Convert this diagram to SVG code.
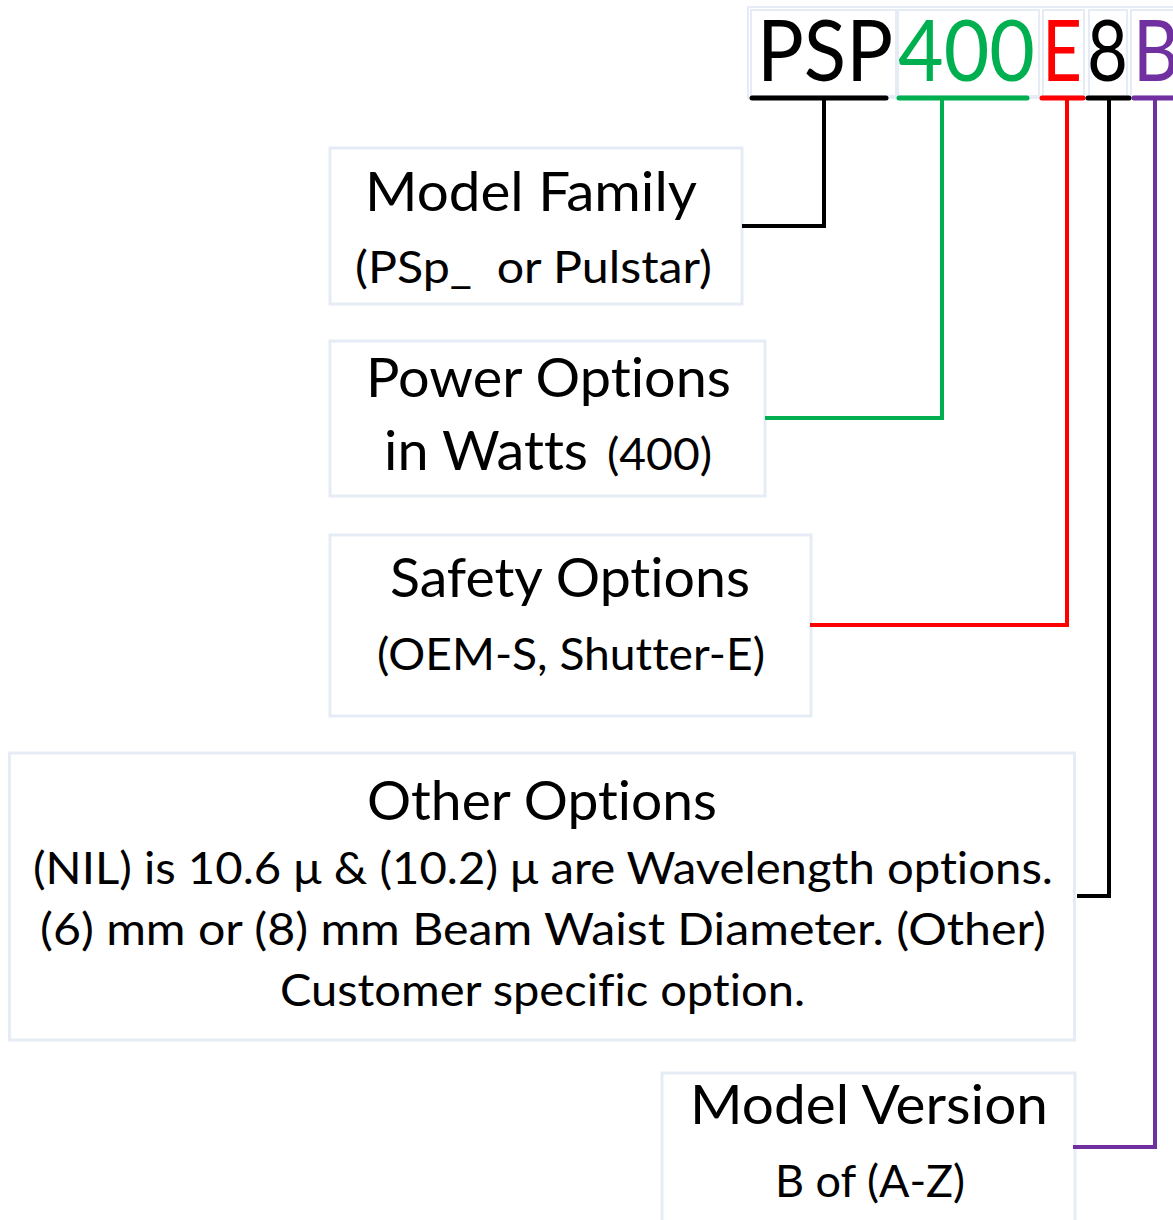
<svg xmlns="http://www.w3.org/2000/svg" width="1173" height="1220" viewBox="0 0 1173 1220">
<style>
.box{fill:#fff;stroke:#E6ECF6;stroke-width:3}
.cell{fill:none;stroke:#E6ECF6;stroke-width:2}
text{font-family:Lato,"Open Sans","Liberation Sans",sans-serif;fill:#000;font-variant-ligatures:none;font-feature-settings:"liga" 0,"clig" 0,"calt" 0,"dlig" 0,"hlig" 0}
.big{font-size:54px}
.sm{font-size:45px}
.top{font-size:85px}
.c{fill:none;stroke-width:4;stroke-linecap:butt;stroke-linejoin:miter}
.u{fill:none;stroke-width:5;stroke-linecap:round}
</style>
<rect width="1173" height="1220" fill="#fff"/>
<g id="code">
<rect class="cell" x="748" y="7" width="432" height="91"/>
<rect class="cell" x="751" y="10" width="145" height="86"/>
<rect class="cell" x="898" y="10" width="141" height="86"/>
<rect class="cell" x="1043" y="10" width="41" height="86"/>
<rect class="cell" x="1089" y="10" width="38" height="86"/>
<rect class="cell" x="1131" y="10" width="50" height="86"/>
<text class="top" x="757" y="81" textLength="136" lengthAdjust="spacingAndGlyphs">PSP</text>
<text class="top" x="898" y="81" textLength="137" lengthAdjust="spacingAndGlyphs" style="fill:#00B050">400</text>
<text class="top" x="1042" y="81" textLength="40" lengthAdjust="spacingAndGlyphs" style="fill:#FF0000">E</text>
<text class="top" x="1087" y="81" textLength="41" lengthAdjust="spacingAndGlyphs">8</text>
<text class="top" x="1133" y="81" textLength="46" lengthAdjust="spacingAndGlyphs" style="fill:#7030A0">B</text>
</g>
<g id="model-family">
<rect class="box" x="330" y="148" width="412" height="156"/>
<text class="big" x="365" y="211" textLength="332" lengthAdjust="spacingAndGlyphs">Model Family</text>
<text class="sm" x="355" y="283" textLength="357" lengthAdjust="spacingAndGlyphs" xml:space="preserve">(PSp_  or Pulstar)</text>
</g>
<g id="power-options">
<rect class="box" x="330" y="341" width="435" height="155"/>
<text class="big" x="366" y="397" textLength="365" lengthAdjust="spacingAndGlyphs">Power Options</text>
<text class="big" x="384" y="470" textLength="204" lengthAdjust="spacingAndGlyphs">in Watts</text>
<text class="sm" x="607" y="470" textLength="105" lengthAdjust="spacingAndGlyphs">(400)</text>
</g>
<g id="safety-options">
<rect class="box" x="330" y="535" width="481" height="181"/>
<text class="big" x="390" y="597" textLength="360" lengthAdjust="spacingAndGlyphs">Safety Options</text>
<text class="sm" x="377" y="670" textLength="388" lengthAdjust="spacingAndGlyphs">(OEM-S, Shutter-E)</text>
</g>
<g id="other-options">
<rect class="box" x="9.5" y="753" width="1065" height="287"/>
<text class="big" x="367" y="820" textLength="350" lengthAdjust="spacingAndGlyphs">Other Options</text>
<text class="sm" x="33" y="884" textLength="1020" lengthAdjust="spacingAndGlyphs">(NIL) is 10.6 μ &amp; (10.2) μ are Wavelength options.</text>
<text class="sm" x="40" y="945" textLength="1006" lengthAdjust="spacingAndGlyphs">(6) mm or (8) mm Beam Waist Diameter. (Other)</text>
<text class="sm" x="280" y="1006" textLength="525" lengthAdjust="spacingAndGlyphs">Customer specific option.</text>
</g>
<g id="model-version">
<rect class="box" x="662" y="1073" width="413" height="160"/>
<text class="big" x="690" y="1124" textLength="358" lengthAdjust="spacingAndGlyphs">Model Version</text>
<text class="sm" x="775" y="1197" textLength="190" lengthAdjust="spacingAndGlyphs">B of (A-Z)</text>
</g>
<g id="connectors">
<line class="u" x1="752" y1="98" x2="886" y2="98" stroke="#000"/>
<line class="u" x1="899" y1="98" x2="1027" y2="98" stroke="#00B050"/>
<line class="u" x1="1042" y1="98" x2="1083" y2="98" stroke="#FF0000"/>
<line class="u" x1="1088" y1="98" x2="1129" y2="98" stroke="#000"/>
<line class="u" x1="1134" y1="98" x2="1175" y2="98" stroke="#7030A0"/>
<polyline class="c" points="824,98 824,226 742,226" stroke="#000"/>
<polyline class="c" points="942,98 942,418 765,418" stroke="#00B050"/>
<polyline class="c" points="1067,98 1067,625 810,625" stroke="#FF0000"/>
<polyline class="c" points="1109,98 1109,896 1077,896" stroke="#000"/>
<polyline class="c" points="1155,98 1155,1147 1073,1147" stroke="#7030A0"/>
</g>
</svg>
